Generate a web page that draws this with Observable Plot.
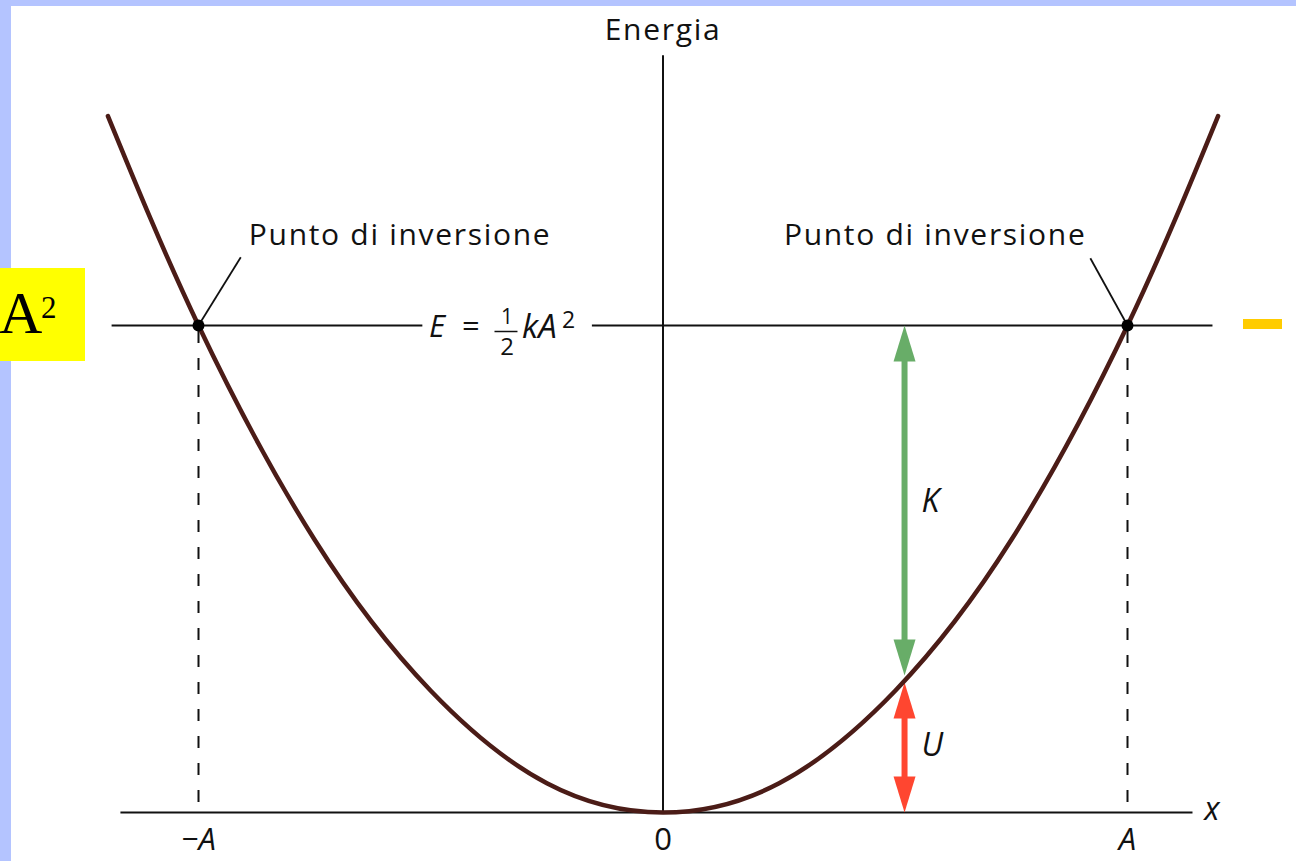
<!DOCTYPE html>
<html>
<head>
<meta charset="utf-8">
<script src="https://cdn.jsdelivr.net/npm/d3@7"></script>
<script src="https://cdn.jsdelivr.net/npm/@observablehq/plot@0.6"></script>
<style>
  html, body { margin: 0; padding: 0; }
  #frame { position: relative; width: 1296px; height: 861px; background: #b4c4ff; overflow: hidden; }
  #paper { position: absolute; left: 11px; top: 6px; right: 0; bottom: 0; background: #fff; }
  #chart { position: absolute; left: 0; top: 0; }
  #chart svg { background: transparent; }
  #chart svg .lbl text { letter-spacing: 1.7px; }
  #tag { position: absolute; left: 0; top: 268px; width: 85px; height: 93px; background: #ffff00;
         font-family: "Liberation Serif", "Times New Roman", serif; color: #000; }
  #tag .base { position: absolute; left: -1px; top: 15px; font-size: 60px; line-height: 1; }
  #tag .sup { position: absolute; left: 41px; top: 24px; font-size: 31px; line-height: 1; }
  #mark { position: absolute; left: 1243px; top: 319px; width: 39px; height: 10px; background: #ffcc00; }
</style>
</head>
<body>
<div id="frame">
  <div id="paper"></div>
  <div id="chart"></div>
  <div id="tag"><span class="base">A</span><span class="sup">2</span></div>
  <div id="mark"></div>
</div>
<script>
// Positions are in units of the amplitude A; energies in units of E = ½kA².
const xTicks = [-1, 0, 1];
const xTickLabels = ["−A", "0", "A"];

// Potential energy U(x) of the spring
const curveX = [-1.195, -1, -0.75, -0.5, -0.25, 0, 0.25, 0.5, 0.75, 1, 1.195];
const curveU = [1.43, 1, 0.56, 0.25, 0.06, 0, 0.06, 0.25, 0.56, 1, 1.43];

// Turning points, where U = E
const turningX = [-1, 1];
const totalE = 1;

// Sample position where E is split into kinetic (K) and potential (U) parts
const sampleX = 0.52;
const sampleU = 0.275;

const turnLabel = "Punto di inversione";
const axisLabel = "Energia";
const font = "'Open Sans', 'Noto Sans', sans-serif";
const ink = "#111";

const curve = curveX.map((x, i) => ({x, u: curveU[i]}));
const turns = turningX.map(x => ({x, e: totalE}));
const ticks = xTicks.map((x, i) => ({x, label: xTickLabels[i]}));

const split = [
  {name: "K", color: "#68ad68", lo: sampleU, hi: totalE},
  {name: "U", color: "#ff4630", lo: 0, hi: sampleU}
];

// Filled arrowheads with their tip at the data point
const headW = 11, headL = 36;
const headUp = {draw(ctx) { ctx.moveTo(0, 0); ctx.lineTo(headW, headL); ctx.lineTo(-headW, headL); ctx.closePath(); }};
const headDown = {draw(ctx) { ctx.moveTo(0, 0); ctx.lineTo(headW, -headL); ctx.lineTo(-headW, -headL); ctx.closePath(); }};

// Leader lines from each turning point up to its label
const leaders = [
  {x1: -1, y1: totalE, x2: -0.909, y2: 1.14},
  {x1: 1, y1: totalE, x2: 0.92, y2: 1.138}
];
const turnLabels = [{x: -0.566, y: 1.185}, {x: 0.586, y: 1.185}];

// The E line is broken where its label sits
const eLabelX = -0.338;
const eSegments = [{x1: -1.186, x2: -0.517}, {x1: -0.152, x2: 1.184}];

const eqPieces = [
  {t: "E", dx: -77, dy: 2, size: 31, style: "italic", anchor: "start"},
  {t: "=", dx: -44, dy: 2, size: 31, style: "normal", anchor: "start"},
  {t: "1", dx: 1, dy: -8, size: 21, style: "normal", anchor: "middle"},
  {t: "2", dx: 1, dy: 22, size: 24, style: "normal", anchor: "middle"},
  {t: "kA", dx: 16, dy: 2, size: 33, style: "italic", anchor: "start"},
  {t: "2", dx: 56, dy: -5, size: 23, style: "normal", anchor: "start"}
];

const tickText = (data, style) => Plot.text(data, {x: "x", y: 0, text: "label", dy: 28, fontSize: 31, fontFamily: font,
  fill: ink, lineAnchor: "middle", fontStyle: style});

const marks = [
  // axes
  Plot.ruleY([0], {x1: -1.167, x2: 1.141, stroke: ink, strokeWidth: 2}),
  Plot.ruleX([0], {y1: 0, y2: 1.554, stroke: ink, strokeWidth: 2}),
  // total energy level
  Plot.ruleY(eSegments, {y: totalE, x1: "x1", x2: "x2", stroke: ink, strokeWidth: 2}),
  // dashed drops from the turning points
  Plot.ruleX(turns, {x: "x", y1: "e", y2: 0, stroke: ink, strokeWidth: 2, strokeDasharray: "12,15", strokeDashoffset: -6}),
  // K and U arrows
  Plot.ruleX(split, {x: sampleX, y1: "hi", y2: "lo", stroke: "color", strokeWidth: 6, insetTop: 22, insetBottom: 22}),
  Plot.dot(split.slice(0, 1), {x: sampleX, y: "hi", symbol: headUp, fill: "color", stroke: "none", r: 10}),
  Plot.dot(split.slice(1), {x: sampleX, y: "hi", symbol: headUp, fill: "color", stroke: "none", r: 10, dy: 4}),
  Plot.dot(split.slice(0, 1), {x: sampleX, y: "lo", symbol: headDown, fill: "color", stroke: "none", r: 10, dy: -3}),
  Plot.dot(split.slice(1), {x: sampleX, y: "lo", symbol: headDown, fill: "color", stroke: "none", r: 10}),
  Plot.text(split, {x: sampleX, y: d => (d.lo + d.hi) / 2, text: "name", dx: 17, textAnchor: "start", lineAnchor: "middle",
    fontSize: 32, fontStyle: "italic", fontFamily: font, fill: ink}),
  // potential energy curve
  Plot.line(curve, {x: "x", y: "u", curve: "natural", stroke: "#4b1c17", strokeWidth: 4.5}),
  // leaders and turning points
  Plot.link(leaders, {x1: "x1", y1: "y1", x2: "x2", y2: "y2", stroke: ink, strokeWidth: 1.8}),
  Plot.dot(turns, {x: "x", y: "e", r: 6, fill: "#000", stroke: "none"}),
  Plot.text(turnLabels, {x: "x", y: "y", text: () => turnLabel, fontSize: 30, fontFamily: font, fill: ink,
    lineAnchor: "middle", className: "lbl"}),
  // axis labels
  Plot.text([axisLabel], {x: 0, y: 1.606, text: d => d, fontSize: 30, fontFamily: font, fill: ink, lineAnchor: "middle", className: "lbl"}),
  tickText(ticks.filter(d => d.x !== 0), "italic"),
  tickText(ticks.filter(d => d.x === 0), "normal"),
  Plot.text(["x"], {x: 1.182, y: 0, text: d => d, dy: -3, fontSize: 32, fontStyle: "italic", fontFamily: font, fill: ink, lineAnchor: "middle"}),
  // E = ½kA² label
  ...eqPieces.map(p => Plot.text([p.t], {x: eLabelX, y: totalE, text: d => d, dx: p.dx, dy: p.dy, textAnchor: p.anchor,
    lineAnchor: "middle", fontSize: p.size, fontStyle: p.style, fontFamily: font, fill: ink})),
  Plot.ruleY([totalE], {x1: eLabelX - 0.0237, x2: eLabelX + 0.0258, dy: 6, stroke: ink, strokeWidth: 1.5})
];

const chart = Plot.plot({
  width: 1296,
  height: 861,
  margin: 0,
  x: {domain: [-1, 1], range: [198, 1127], axis: null},
  y: {domain: [0, 1], range: [812, 325], axis: null},
  color: {type: "identity"},
  marks
});
document.getElementById("chart").appendChild(chart);
</script>
</body>
</html>
